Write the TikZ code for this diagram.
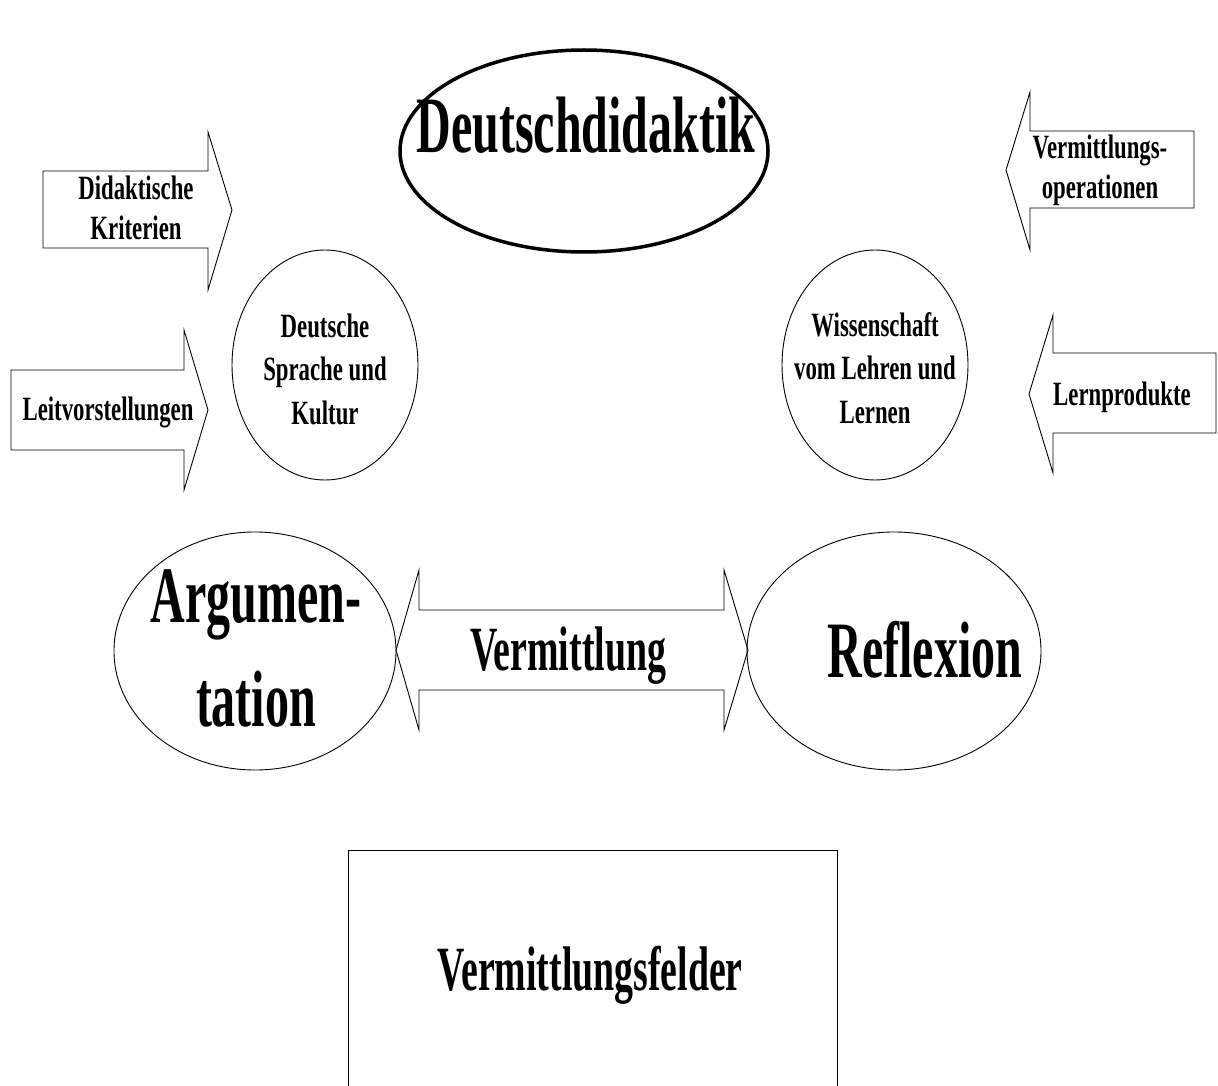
\documentclass[tikz,border=0pt]{standalone}
\usepackage{fontspec}
\setmainfont{Liberation Serif}
\newfontfamily\bigfont[FakeStretch=0.6]{Liberation Serif Bold}
\newfontfamily\smallfont[FakeStretch=0.67]{Liberation Serif Bold}
\usepackage{tikz}

\begin{document}
\begin{tikzpicture}[x=1pt,y=-1pt,line width=0.9pt,
    bigtext/.style={font=\bigfont\fontsize{80}{104}\selectfont,inner sep=0pt,align=center},
    midtext/.style={font=\bigfont\fontsize{63}{80}\selectfont,inner sep=0pt},
    smalltext/.style={font=\smallfont\fontsize{34}{43.5}\selectfont,inner sep=0pt,align=center},
    arrowtext/.style={smalltext,font=\smallfont\fontsize{34}{40}\selectfont}]
    \useasboundingbox (0,0) rectangle (1218,1086);

    % top
    \draw[line width=3.5pt]    (584,151) ellipse (184 and 101);
    \node[bigtext,anchor=base] (ddk) at (586,153) {Deutschdidaktik};

    % arrows on the left
    \draw    (43,171) -- (208,171) -- (208,132) -- (232,210) -- (208,290) -- (208,248) -- (43,248) -- cycle;
    \node[arrowtext] (krit) at (136,208) {Didaktische\\Kriterien};
    \draw    (11,370) -- (184,370) -- (184,330) -- (208,410) -- (184,490) -- (184,450) -- (11,450) -- cycle;
    \node[smalltext,anchor=base] (leit) at (108,420) {Leitvorstellungen};

    % arrows on the right
    \draw    (1194,131) -- (1030,131) -- (1030,92) -- (1006,170) -- (1030,250) -- (1030,208) -- (1194,208) -- cycle;
    \node[arrowtext] (oper) at (1100,170) {Vermittlungs-\\operationen};
    \draw    (1216,353) -- (1053,353) -- (1053,315) -- (1029,394) -- (1053,473) -- (1053,433) -- (1216,433) -- cycle;
    \node[smalltext,anchor=base] (lern) at (1122,405) {Lernprodukte};

    % the two circles
    \draw    (325,365) ellipse (93 and 115);
    \node[smalltext] (spr) at (325,369) {Deutsche\\Sprache und\\Kultur};
    \draw    (875,365) ellipse (93 and 115);
    \node[smalltext] (wiss) at (875,368) {Wissenschaft\\vom Lehren und\\Lernen};

    % middle row
    \draw    (255,651) ellipse (141 and 119);
    \node[bigtext] (arg) at (256,648) {Argumen-\\tation};
    \draw    (894,651) ellipse (147 and 119);
    \node[bigtext,anchor=base] (refl) at (925,677) {Reflexion};
    \draw    (396,650) -- (419,570) -- (419,610) -- (724,610) -- (724,570) -- (748,650)
             -- (724,730) -- (724,690) -- (419,690) -- (419,730) -- cycle;
    \node[midtext,anchor=base] (verm) at (568,670) {Vermittlung};

    % bottom box, cut off below
    \draw    (348,1086) -- (348,850) -- (837,850) -- (837,1086);
    \node[midtext,anchor=base] (feld) at (590,990) {Vermittlungsfelder};
\end{tikzpicture}
\end{document}
